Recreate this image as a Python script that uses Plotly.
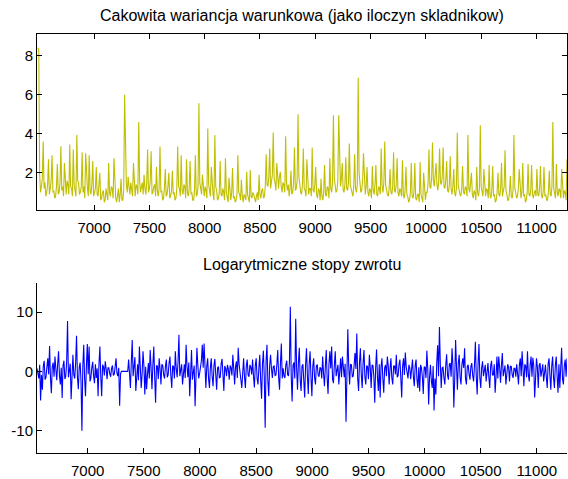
import plotly.graph_objects as go

# ---------------- data ----------------
top_x_start = 6492
bottom_x_start = 6549
x_step = 8

variance = [
    8.4, 8.3, 1.9, 1.0, 1.3, 1.7, 3.6, 1.2, 1.5, 0.8, 1.0, 1.4, 2.7, 0.9, 1.2, 1.6, 2.9, 1.0, 1.1, 0.7,
    0.8, 1.3, 2.45, 0.9, 1.0, 1.5, 3.36, 1.1, 1.3, 0.8, 2.5, 1.2, 0.9, 1.6, 1.4, 0.9, 3.45, 1.3, 1.2, 0.8,
    3.2, 1.4, 1.1, 0.8, 3.93, 1.6, 1.5, 0.9, 1.0, 1.3, 3.05, 1.0, 1.3, 0.7, 3.0, 1.5, 1.2, 0.8, 2.9, 1.1,
    0.9, 1.4, 2.6, 0.8, 1.0, 1.2, 2.3, 0.9, 0.8, 1.3, 2.0, 0.6, 0.7, 1.0, 1.1, 0.5, 0.6, 1.2, 0.9, 0.6,
    2.5, 1.0, 0.8, 1.3, 1.2, 0.7, 2.75, 1.1, 0.7, 0.5, 1.0, 1.2, 0.5, 0.9, 1.7, 0.6, 0.6, 1.1, 6.0, 2.1,
    1.4, 1.0, 1.8, 1.3, 0.9, 1.5, 1.2, 0.8, 2.5, 1.2, 0.8, 1.4, 1.3, 0.9, 4.6, 1.6, 1.0, 1.3, 1.5, 0.9,
    1.9, 1.2, 0.9, 1.5, 3.2, 1.0, 1.2, 1.6, 3.1, 0.9, 1.0, 1.3, 1.4, 0.8, 2.3, 1.1, 0.8, 1.2, 3.35, 1.0,
    1.1, 0.6, 0.7, 1.2, 2.2, 0.8, 0.9, 1.3, 2.0, 0.7, 0.8, 1.1, 2.1, 0.9, 1.0, 0.6, 0.7, 1.2, 3.35, 1.3,
    1.2, 0.8, 2.9, 1.1, 0.9, 1.4, 1.3, 0.7, 2.7, 1.0, 0.8, 1.2, 2.6, 0.9, 1.0, 0.6, 0.6, 1.1, 2.9, 0.8,
    0.9, 1.3, 5.56, 1.5, 1.2, 0.9, 1.9, 1.1, 0.8, 1.3, 1.1, 0.7, 4.27, 1.4, 1.0, 0.8, 2.3, 1.2, 0.9, 0.6,
    3.93, 1.3, 1.1, 0.6, 0.7, 1.0, 2.6, 0.9, 0.8, 1.2, 1.0, 0.6, 2.75, 1.0, 0.7, 0.5, 1.75, 0.8, 0.6, 1.0,
    2.25, 0.7, 0.8, 0.5, 0.6, 0.9, 2.9, 1.0, 0.9, 0.6, 1.65, 0.8, 0.5, 0.9, 0.8, 0.6, 2.05, 0.9, 0.6, 0.5,
    2.15, 0.8, 0.7, 1.0, 0.9, 0.6, 0.5, 0.8, 1.0, 0.6, 1.9, 0.9, 0.7, 1.1, 1.2, 0.7, 0.8, 1.3, 2.95, 1.4,
    1.3, 1.8, 3.25, 1.2, 1.6, 1.9, 4.07, 1.7, 1.5, 1.1, 2.5, 1.6, 1.2, 1.8, 2.05, 1.3, 1.0, 1.5, 1.4, 1.0,
    3.87, 1.5, 1.1, 1.4, 0.8, 1.2, 2.1, 0.9, 1.0, 1.5, 3.3, 1.1, 1.2, 1.6, 5.0, 1.8, 1.3, 1.0, 0.9, 1.4,
    3.25, 1.2, 1.1, 0.8, 2.7, 1.3, 0.9, 1.2, 1.2, 0.8, 3.3, 1.1, 1.0, 1.4, 2.3, 0.9, 0.7, 1.2, 1.1, 0.6,
    1.7, 0.8, 0.6, 1.0, 2.4, 0.9, 0.8, 1.3, 1.2, 0.7, 2.75, 1.2, 1.0, 1.5, 4.95, 1.7, 1.4, 1.0, 1.1, 1.6,
    4.95, 1.9, 1.3, 1.7, 2.5, 1.1, 1.0, 1.4, 2.8, 1.2, 1.1, 1.5, 3.5, 1.4, 1.2, 0.9, 0.8, 1.3, 2.95, 1.2,
    1.0, 1.4, 6.87, 2.0, 1.5, 1.0, 1.1, 1.6, 3.0, 1.2, 0.9, 1.3, 2.3, 1.0, 0.8, 1.2, 1.1, 0.7, 2.35, 1.1,
    0.9, 1.4, 2.4, 0.9, 0.8, 1.3, 1.2, 0.9, 3.25, 1.3, 1.0, 1.5, 3.6, 1.4, 1.1, 0.9, 0.8, 1.2, 2.2, 1.0,
    0.9, 1.3, 3.05, 1.1, 1.0, 1.4, 2.75, 1.0, 0.8, 1.2, 1.1, 0.8, 2.65, 0.9, 0.7, 1.1, 2.3, 0.9, 0.8, 0.5,
    0.6, 1.0, 2.5, 0.8, 0.7, 1.0, 2.5, 0.7, 0.6, 0.9, 0.9, 0.5, 2.55, 0.9, 0.7, 0.5, 2.0, 0.8, 0.6, 1.0,
    1.0, 1.5, 3.2, 1.3, 1.2, 1.7, 3.55, 1.6, 1.3, 1.9, 2.5, 1.4, 1.1, 1.6, 3.25, 1.5, 1.4, 1.8, 3.3, 1.3,
    1.2, 1.6, 2.6, 1.1, 1.0, 1.4, 2.85, 1.2, 0.9, 1.3, 2.2, 1.0, 0.8, 1.2, 4.05, 1.4, 1.1, 0.9, 0.8, 1.2,
    2.35, 1.0, 0.9, 1.3, 1.2, 0.8, 3.93, 1.2, 1.0, 1.4, 2.0, 0.9, 0.7, 1.1, 1.0, 0.6, 2.3, 1.0, 0.8, 1.2,
    4.44, 1.3, 1.0, 0.8, 2.2, 1.1, 0.8, 1.2, 1.1, 0.7, 2.4, 0.9, 0.7, 1.1, 2.35, 0.8, 0.9, 0.5, 0.6, 1.0,
    2.0, 0.9, 0.8, 1.2, 2.5, 0.8, 1.0, 1.3, 3.15, 1.1, 0.9, 0.6, 0.6, 1.0, 1.85, 0.8, 0.7, 1.1, 3.93, 1.2,
    1.0, 0.7, 0.8, 1.2, 2.2, 0.9, 0.7, 1.0, 2.5, 0.8, 0.9, 0.5, 0.6, 1.0, 2.45, 0.9, 0.8, 1.1, 2.4, 0.9,
    0.7, 1.0, 1.1, 0.8, 2.2, 0.9, 0.8, 1.2, 2.35, 0.9, 0.7, 1.0, 2.3, 0.8, 0.9, 0.6, 0.6, 1.0, 2.1, 0.9,
    0.8, 1.3, 4.6, 1.2, 1.0, 0.7, 2.45, 1.0, 0.8, 1.2, 1.1, 0.7, 2.2, 0.9, 0.7, 1.1, 1.0, 0.6, 2.7, 1.3,
]

returns = [
    0.5, -0.8, -1.2, 1.1, -4.9, -0.6, -3.1, 0.9, 1.8, -1.4, -1.0, 0.7, 2.2, -0.5, 4.3, -1.1, -3.7, 0.8, 1.5, -0.9,
    2.5, 0.4, -1.5, 1.2, 3.4, -0.7, -2.2, 0.6, -4.5, 1.0, 1.8, -1.3, -0.8, 1.5, 8.5, -1.0, 0.6, 1.3, -4.7, 0.5,
    2.8, -0.6, -1.2, 1.4, 6.0, -0.9, -3.0, 0.7, 1.5, -1.6, -10.0, 0.8, 4.5, -1.2, -4.2, 1.0, 4.6, -0.5, 4.2, -1.7,
    -1.1, 0.6, 1.6, -0.8, -2.0, 1.2, -1.1, 0.5, -4.2, 1.3, 4.2, -0.9, -4.2, 1.1, 0.8, -0.7, 1.7, 0.4, -1.3, 0.6,
    0.6, -0.4, -0.9, 0.5, 1.0, -0.7, -0.5, 0.8, 2.2, -0.3, -0.8, 0.6, -5.8, -0.4, 0.0, 0.0, 0.0, 0.0, 0.0, 0.0,
    0.0, 0.0, 2.0, -1.1, -2.8, 1.6, 5.3, -0.8, 1.5, 2.4, -3.3, -1.0, 1.2, -1.5, 4.2, 0.7, -2.8, -0.5, 3.4, 1.0,
    -3.9, 0.8, -3.0, -0.5, 1.4, -1.2, 3.6, 0.6, -3.0, 1.1, 4.2, -0.9, -5.3, 1.0, 0.9, -1.3, 2.2, 0.4, -2.2, 1.2,
    1.0, -0.6, -1.2, 0.9, 2.0, -1.0, -0.6, 1.4, 2.5, -0.7, -2.8, 1.0, 0.8, -1.2, 3.4, 0.5, -1.0, 1.6, 6.2, -0.8,
    0.5, 1.2, -2.2, -0.6, 1.2, -1.1, 4.5, 0.8, -1.0, 1.5, -4.2, -0.5, 3.6, -1.4, 0.4, 1.0, -5.9, -0.8, 4.0, 1.1,
    -1.2, -0.4, 1.0, 1.8, 4.5, 0.6, 4.7, -1.0, -2.8, 0.9, 2.2, -1.3, -2.8, 0.7, 2.2, -0.9, -2.5, 1.0, 2.1, -0.6,
    -3.1, 0.6, 0.8, -1.1, -1.0, 1.3, 2.1, -0.5, -3.3, 0.9, 0.5, -0.8, 1.1, 0.4, -1.4, 1.0, 0.6, -0.7, 2.8, 0.5,
    -2.2, 0.8, 1.7, -1.1, 4.0, 1.2, -0.8, -1.5, -2.8, 0.7, 2.2, -1.0, -2.8, 0.9, 2.0, -0.6, -0.9, 1.1, 0.7, -0.5,
    2.0, -0.8, -2.7, 1.0, 2.2, -1.2, -2.2, 0.6, 2.8, -1.5, -4.6, 1.3, 3.5, -0.9, -9.5, 1.7, 4.5, -1.6, -4.2, 1.0,
    2.8, 0.5, -1.1, 0.8, 0.9, -0.7, -0.6, 1.2, 3.6, -1.0, -3.1, 1.4, 4.7, -1.2, 0.5, -0.8, -1.1, 1.1, 1.8, -0.6,
    -0.7, 1.4, 10.9, -0.8, -5.1, 1.0, 1.5, -1.2, 8.9, 0.6, -3.1, 1.5, 4.0, -1.4, -3.3, 0.9, 1.2, -1.6, -4.4, 1.1,
    3.9, -0.7, -3.8, 1.3, 3.4, -1.0, -4.2, 0.8, 2.2, -1.1, -2.2, 1.0, 1.1, -0.6, -0.9, 0.7, 0.5, -1.2, 2.5, -0.4,
    -2.5, 0.9, 3.6, -1.1, -3.8, 1.2, 3.4, 0.5, 4.2, -1.3, -2.0, 1.0, 3.4, -0.8, 0.6, 1.1, -2.2, 0.7, 2.2, -1.0,
    2.5, 0.8, -1.0, 1.3, -8.5, -0.6, 7.1, 0.9, -2.2, 1.2, 1.1, -0.9, -0.8, 1.0, 3.1, 0.4, 6.4, -1.2, -3.3, 1.5,
    3.9, -0.6, -2.8, 1.4, 3.6, -0.9, -2.2, 1.0, 0.8, -1.3, 2.8, 0.6, -2.8, 1.1, 1.0, -0.9, -5.3, 0.7, 3.7, -1.0,
    -3.3, 1.2, -4.4, 0.8, 2.2, -1.2, -3.6, 0.6, 1.1, -0.8, 2.5, 1.0, -2.2, 0.5, 2.2, -1.1, -2.2, 0.9, 0.9, -0.5,
    2.8, -1.0, -0.7, 1.2, 2.0, -1.1, -4.4, 0.9, 2.2, -0.6, 3.2, 0.8, -0.8, -1.2, 1.1, 0.6, -1.3, 0.9, 2.0, -0.9,
    -2.5, 1.0, 2.0, -1.4, -2.8, 0.7, -3.4, 1.1, 0.6, -1.0, -3.8, 0.8, 0.7, -1.1, 3.5, 0.5, -5.6, -0.9, 1.1, -1.6,
    -2.8, 0.9, -6.6, -1.2, -3.9, 1.5, 4.4, -0.8, 7.5, 1.2, -2.8, 0.6, 0.7, -1.1, -2.2, 1.0, 2.9, -0.7, -1.4, 1.2,
    1.4, -0.9, 3.9, 1.1, -6.1, -1.3, 5.3, 0.8, -3.1, 1.4, 2.8, -1.0, -2.2, 1.2, 2.2, 0.6, 3.9, -1.2, -2.2, 0.8,
    1.1, -0.5, -1.4, 0.8, 1.4, -0.7, -1.7, 1.0, 5.0, -0.9, -3.9, 1.3, 4.6, -1.1, -2.8, 0.6, 1.7, -0.8, 0.4, 1.1,
    -1.7, 0.5, 1.4, -1.0, -2.8, 0.9, 1.8, -0.6, -0.6, 1.2, -3.6, -0.9, 2.5, -1.2, 2.5, 0.7, -1.9, 1.0, 3.1, -0.8,
    0.6, 1.0, -2.2, -0.5, 1.2, 0.7, -1.7, 0.9, 0.8, -0.6, -1.1, 0.5, 0.5, -0.9, 1.2, -0.4, -2.2, 1.1, 2.2, -0.8,
    3.4, 0.6, -2.5, 1.2, 0.9, -1.0, 3.4, -0.6, -1.7, 1.1, 2.5, -0.9, 2.3, 1.0, -4.4, -1.2, 2.2, 0.8, -2.8, 1.0,
    1.4, -0.9, 0.5, 1.2, -1.7, 0.6, 1.1, -1.0, -2.8, 1.3, 2.2, -0.7, -3.1, 0.9, 2.5, -1.1, -2.8, 1.0, 2.5, -0.8,
    -3.6, 1.2, -2.8, 0.6, 4.0, -1.3, -2.2, 1.0, 2.0, -0.9, 2.2, 0.4,
]

x_tick_values = [7000, 7500, 8000, 8500, 9000, 9500, 10000, 10500, 11000]
x_tick_labels = ["7000", "7500", "8000", "8500", "9000", "9500", "10000", "10500", "11000"]
top_y_ticks = [2, 4, 6, 8]
top_y_labels = ["2", "4", "6", "8"]
bottom_y_ticks = [-10, 0, 10]
bottom_y_labels = ["-10", "0", "10"]
top_title = "Cakowita wariancja warunkowa (jako iloczyn skladnikow)"
bottom_title = "Logarytmiczne stopy zwrotu"

x_top = [top_x_start + x_step * i for i in range(len(variance))]
x_bottom = [bottom_x_start + x_step * i for i in range(len(returns))]

# ---------------- figure ----------------
FONT = "Liberation Sans, Arial, sans-serif"
W, H = 568, 479

fig = go.Figure()
fig.add_trace(go.Scatter(x=x_top, y=variance, mode="lines",
                         line=dict(color="rgb(191,191,0)", width=1.1),
                         xaxis="x", yaxis="y", showlegend=False, hoverinfo="skip"))
fig.add_trace(go.Scatter(x=x_bottom, y=returns, mode="lines",
                         line=dict(color="rgb(0,0,255)", width=1.1),
                         xaxis="x2", yaxis="y2", showlegend=False, hoverinfo="skip"))

axis_common = dict(showgrid=False, zeroline=False, showline=True, linecolor="black",
                   linewidth=1, ticks="inside", ticklen=5, tickwidth=1, tickcolor="black",
                   tickfont=dict(family=FONT, size=15, color="black"))

def py(pix):
    return (H - pix) / H

fig.update_layout(
    width=W, height=H,
    margin=dict(l=37, r=0, t=0, b=0),
    paper_bgcolor="white", plot_bgcolor="white",
    font=dict(family=FONT, color="black"),
    xaxis=dict(domain=[0, 1], anchor="y", range=[6484, 11276], tickvals=x_tick_values,
               ticktext=x_tick_labels, mirror="ticks", ticklabelstandoff=4, **axis_common),
    yaxis=dict(domain=[py(211.7), py(34.7)], anchor="x", range=[0.08, 9.08],
               tickvals=top_y_ticks, ticktext=top_y_labels, mirror="ticks", **axis_common),
    xaxis2=dict(domain=[0, 1], anchor="y2", range=[6549, 11269], tickvals=x_tick_values,
                ticktext=x_tick_labels, ticklabelstandoff=4, **axis_common),
    yaxis2=dict(domain=[py(456), py(284.3)], anchor="x2", range=[-13.8, 15.0],
                tickvals=bottom_y_ticks, ticktext=bottom_y_labels, **axis_common),
    annotations=[
        dict(text=top_title, x=0.5, y=py(16), xref="paper", yref="paper",
             showarrow=False, xanchor="center", yanchor="middle",
             font=dict(family=FONT, size=16, color="black")),
        dict(text=bottom_title, x=0.5, y=py(266), xref="paper", yref="paper",
             showarrow=False, xanchor="center", yanchor="middle",
             font=dict(family=FONT, size=16, color="black")),
    ],
)

fig.write_html("out.html", config={"displayModeBar": False},
               post_script="document.body.style.margin='0';document.body.style.overflow='hidden';")
